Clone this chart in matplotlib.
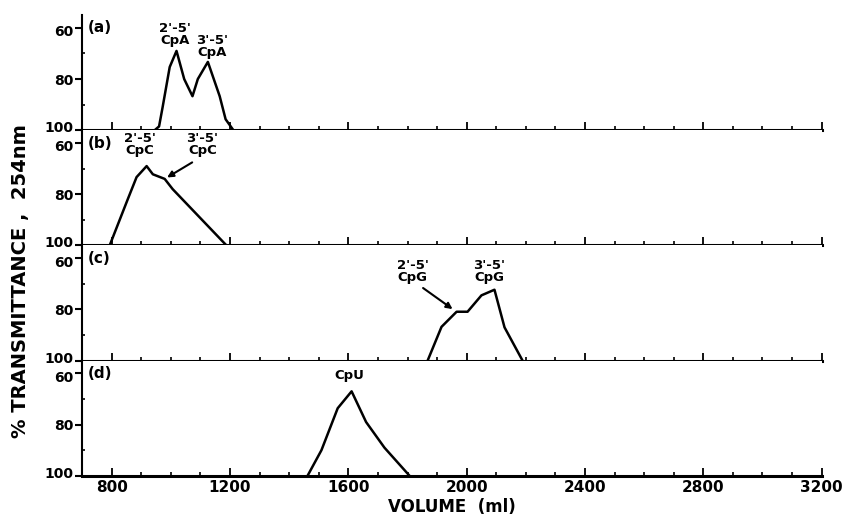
import matplotlib.pyplot as plt
import matplotlib.transforms as mtransforms
from matplotlib.ticker import MultipleLocator

# data (volume in ml, % transmittance)
vol_a = [945, 960, 972, 996, 1019, 1045, 1073, 1091, 1125, 1165, 1185, 1209]
trans_a = [100, 98.5, 91, 75.3, 69, 80, 86.7, 80, 73.3, 86.7, 95.7, 99.6]

vol_b = [793, 854, 884, 918, 939, 979, 1006, 1188]
trans_b = [100, 82, 73.3, 69, 72.2, 74, 78, 100]

vol_c = [1868, 1915, 1966, 2003, 2050, 2094, 2128, 2189]
trans_c = [100, 86.8, 80.9, 80.9, 74.5, 72.3, 87, 100]

vol_d = [1462, 1509, 1564, 1611, 1660, 1722, 1807]
trans_d = [100, 90, 73.6, 67, 79, 89, 100]

panels = ['(a)', '(b)', '(c)', '(d)']
vols = [vol_a, vol_b, vol_c, vol_d]
trans = [trans_a, trans_b, trans_c, trans_d]
xticks = [800, 1200, 1600, 2000, 2400, 2800, 3200]

plt.rcParams['font.family'] = 'DejaVu Sans'
plt.rcParams['font.weight'] = 'bold'

fig, axes = plt.subplots(4, 1, figsize=(8.47, 5.2), dpi=100, sharex=True)
fig.subplots_adjust(left=0.097, right=0.970, top=0.971, bottom=0.085, hspace=0)

for ax, lab, v, t in zip(axes, panels, vols, trans):
    ax.plot(v, t, color='black', lw=1.8)
    ax.set_xlim(700, 3200)
    ax.set_ylim(100, 55)
    ax.set_yticks([60, 80, 100])
    ax.yaxis.set_minor_locator(MultipleLocator(10))
    ax.xaxis.set_major_locator(MultipleLocator(200))
    ax.xaxis.set_minor_locator(MultipleLocator(100))
    ax.spines['top'].set_visible(False)
    ax.spines['right'].set_visible(False)
    ax.spines['bottom'].set_linewidth(2.2)
    ax.spines['left'].set_linewidth(1.5)
    ax.tick_params(axis='x', which='major', direction='in', length=6, width=1.3, labelbottom=False)
    ax.tick_params(axis='x', which='minor', direction='in', length=3, width=1.2)
    ax.tick_params(axis='y', which='major', direction='out', length=5, width=1.5, labelsize=10, pad=1)
    ax.tick_params(axis='y', which='minor', direction='in', length=2, width=1.2)
    ax.text(718, 60, lab, fontsize=11, fontweight='bold', va='center', ha='left')
    # nudge the 60 / 100 labels apart where panels meet
    ylabels = ax.get_yticklabels()
    ylabels[0].set_transform(ylabels[0].get_transform() +
                             mtransforms.ScaledTranslation(0, -2 / 72, fig.dpi_scale_trans))
    ylabels[2].set_transform(ylabels[2].get_transform() +
                             mtransforms.ScaledTranslation(0, 2.5 / 72, fig.dpi_scale_trans))

axes[3].set_xticks(xticks)
axes[3].tick_params(axis='x', which='major', labelbottom=True, labelsize=11, pad=3)
axes[3].set_xlabel('VOLUME  (ml)', fontsize=12, fontweight='bold', labelpad=2)
fig.text(0.024, 0.46, '% TRANSMITTANCE ,  254nm', rotation=90, fontsize=14,
         fontweight='bold', va='center', ha='center')

lab_kw = dict(fontsize=9.5, fontweight='bold', ha='center', va='bottom', linespacing=0.9)
axes[0].text(1013, 67.5, "2'-5'\nCpA", **lab_kw)
axes[0].text(1138, 72, "3'-5'\nCpA", **lab_kw)

axes[1].text(895, 65.5, "2'-5'\nCpC", **lab_kw)
axes[1].text(1107, 65.5, "3'-5'\nCpC", **lab_kw)
axes[1].annotate('', xy=(979, 74), xytext=(1080, 67),
                 arrowprops=dict(arrowstyle='-|>', color='black', lw=1.5, mutation_scale=9))

axes[2].text(1817, 70, "2'-5'\nCpG", **lab_kw)
axes[2].text(2077, 70, "3'-5'\nCpG", **lab_kw)
axes[2].annotate('', xy=(1960, 80.5), xytext=(1845, 71),
                 arrowprops=dict(arrowstyle='-|>', color='black', lw=1.5, mutation_scale=9))

axes[3].text(1604, 63.5, 'CpU', **lab_kw)

fig.savefig('out.png', dpi=100)
